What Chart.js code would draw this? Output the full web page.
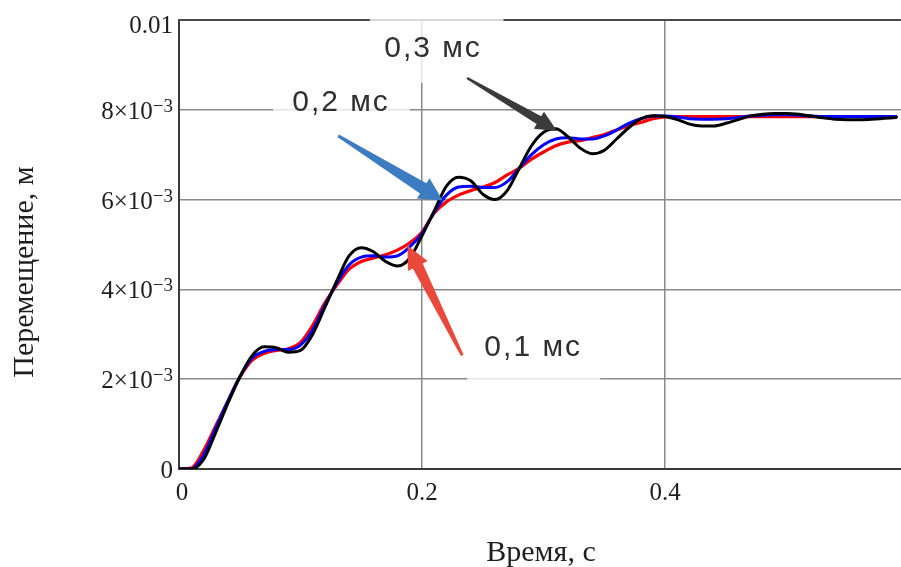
<!DOCTYPE html>
<html><head><meta charset="utf-8">
<script src="https://cdn.jsdelivr.net/npm/chart.js@4/dist/chart.umd.min.js"></script>
<style>html,body{margin:0;padding:0;background:#fff;overflow:hidden}#wrap{width:901px;height:567px}</style>
</head><body><div id="wrap"><canvas id="c" width="901" height="567"></canvas></div>
<script>
// ---- data (time, s; displacement, m) ----
const times = [0,0.01,0.02,0.03,0.04,0.05,0.06,0.07,0.08,0.09,
  0.10,0.11,0.12,0.13,0.14,0.15,0.16,0.17,0.18,0.19,
  0.20,0.21,0.22,0.23,0.24,0.25,0.26,0.27,0.28,0.29,
  0.30,0.31,0.32,0.33,0.34,0.35,0.36,0.37,0.38,0.39,
  0.40,0.41,0.42,0.43,0.44,0.45,0.46,0.47,0.48,0.49,
  0.50,0.51,0.52,0.53,0.54,0.55,0.56,0.57,0.58,0.59];
const s03 = [0,0,0.20e-3,0.80e-3,1.45e-3,2.05e-3,2.52e-3,2.72e-3,2.70e-3,2.60e-3,
  2.64e-3,3.00e-3,3.60e-3,4.20e-3,4.75e-3,4.93e-3,4.84e-3,4.62e-3,4.52e-3,4.70e-3,
  5.20e-3,5.75e-3,6.30e-3,6.50e-3,6.42e-3,6.12e-3,6.00e-3,6.20e-3,6.70e-3,7.20e-3,
  7.50e-3,7.58e-3,7.40e-3,7.15e-3,7.02e-3,7.10e-3,7.35e-3,7.60e-3,7.80e-3,7.87e-3,
  7.85e-3,7.78e-3,7.68e-3,7.64e-3,7.64e-3,7.70e-3,7.78e-3,7.86e-3,7.90e-3,7.92e-3,
  7.92e-3,7.90e-3,7.86e-3,7.82e-3,7.79e-3,7.78e-3,7.78e-3,7.79e-3,7.81e-3,7.83e-3];
const s02 = [0,0,0.30e-3,0.90e-3,1.50e-3,2.05e-3,2.47e-3,2.62e-3,2.66e-3,2.66e-3,
  2.76e-3,3.10e-3,3.65e-3,4.15e-3,4.55e-3,4.72e-3,4.75e-3,4.72e-3,4.75e-3,4.95e-3,
  5.25e-3,5.72e-3,6.10e-3,6.28e-3,6.30e-3,6.27e-3,6.27e-3,6.40e-3,6.70e-3,7.00e-3,
  7.22e-3,7.35e-3,7.38e-3,7.35e-3,7.35e-3,7.42e-3,7.55e-3,7.70e-3,7.80e-3,7.86e-3,
  7.86e-3,7.84e-3,7.80e-3,7.79e-3,7.79e-3,7.80e-3,7.83e-3,7.86e-3,7.88e-3,7.89e-3,
  7.89e-3,7.88e-3,7.86e-3,7.85e-3,7.85e-3,7.85e-3,7.85e-3,7.85e-3,7.85e-3,7.85e-3];
const s01 = [0,0.02e-3,0.40e-3,0.95e-3,1.50e-3,2.04e-3,2.42e-3,2.57e-3,2.64e-3,2.68e-3,
  2.82e-3,3.20e-3,3.70e-3,4.10e-3,4.45e-3,4.62e-3,4.70e-3,4.77e-3,4.88e-3,5.04e-3,
  5.28e-3,5.70e-3,5.95e-3,6.10e-3,6.20e-3,6.28e-3,6.38e-3,6.55e-3,6.70e-3,6.90e-3,
  7.06e-3,7.20e-3,7.28e-3,7.31e-3,7.38e-3,7.45e-3,7.55e-3,7.65e-3,7.72e-3,7.80e-3,
  7.84e-3,7.85e-3,7.85e-3,7.85e-3,7.85e-3,7.85e-3,7.85e-3,7.85e-3,7.85e-3,7.85e-3,
  7.85e-3,7.85e-3,7.85e-3,7.85e-3,7.85e-3,7.85e-3,7.85e-3,7.85e-3,7.85e-3,7.85e-3];
const seriesNames = ['0,3 мс','0,2 мс','0,1 мс'];
const xTicks = [0,0.2,0.4];
const xTickLabels = ['0','0.2','0.4'];
const yTicks = [0,0.002,0.004,0.006,0.008,0.01];
const yTickMain = ['0','2×10','4×10','6×10','8×10','0.01'];
const yTickSup = ['','−3','−3','−3','−3',''];
const xTitle = 'Время, с';
const yTitle = 'Перемещение, м';
// callouts: label position, box corners, arrow tail/tip (data units)
const callouts = [
  {text:'0,3 мс', color:'#3a3a3a', tx:0.209, ty:0.00936, box:[0.157,0.01004,0.267,0.0086], tail:[0.237,0.00871], tip:[0.311,0.00753], w:[1.2,4.5,10], head:21},
  {text:'0,2 мс', color:'#3d7cc0', tx:0.1333, ty:0.00816, box:[0.0774,0.00866,0.190,0.00789], tail:[0.131,0.00742], tip:[0.217,0.00598], w:[1.5,6,12], head:23},
  {text:'0,1 мс', color:'#e8493b', tx:0.2914, ty:0.00269, box:[0.237,0.00336,0.3465,0.00191], tail:[0.233,0.00253], tip:[0.188,0.00498], w:[1.5,5.5,11], head:23}
];

const SERIF = '"Liberation Serif","Times New Roman",serif';
const SANS = '"Liberation Sans",Arial,sans-serif';

const drawPlugin = {
  id:'deco',
  beforeDatasetsDraw(chart){
    const {ctx, chartArea:a} = chart;
    ctx.save();
    ctx.strokeStyle='#4a4a4a'; ctx.lineWidth=2;
    ctx.beginPath(); ctx.moveTo(a.left-1,a.top); ctx.lineTo(a.right,a.top); ctx.stroke();
    ctx.restore();
  },
  afterDatasetsDraw(chart){
    const {ctx} = chart;
    const xs = chart.scales.x, ys = chart.scales.y;
    const px = v=>xs.getPixelForValue(v), py = v=>ys.getPixelForValue(v);
    ctx.save();
    for(const c of callouts){
      const x0=px(c.box[0]), y0=py(c.box[1]), x1=px(c.box[2]), y1=py(c.box[3]);
      ctx.fillStyle='rgba(255,255,255,0.78)';
      ctx.fillRect(x0,y0,x1-x0,y1-y0);
      ctx.fillStyle='#303030';
      ctx.font='30px '+SANS;
      ctx.textAlign='center'; ctx.textBaseline='middle';
      try{ctx.letterSpacing='2px';}catch(e){}
      ctx.fillText(c.text, px(c.tx), py(c.ty));
      try{ctx.letterSpacing='0px';}catch(e){}
    }
    for(const c of callouts){
      const tx=px(c.tail[0]), ty=py(c.tail[1]), hx=px(c.tip[0]), hy=py(c.tip[1]);
      const dx=hx-tx, dy=hy-ty, L=Math.hypot(dx,dy), ux=dx/L, uy=dy/L, nx=-uy, ny=ux;
      const bx=hx-ux*c.head, by=hy-uy*c.head;
      ctx.fillStyle=c.color;
      ctx.beginPath();
      ctx.moveTo(tx+nx*c.w[0],ty+ny*c.w[0]);
      ctx.lineTo(bx+nx*c.w[1],by+ny*c.w[1]);
      ctx.lineTo(bx+nx*c.w[2],by+ny*c.w[2]);
      ctx.lineTo(hx,hy);
      ctx.lineTo(bx-nx*c.w[2],by-ny*c.w[2]);
      ctx.lineTo(bx-nx*c.w[1],by-ny*c.w[1]);
      ctx.lineTo(tx-nx*c.w[0],ty-ny*c.w[0]);
      ctx.closePath(); ctx.fill();
    }
    ctx.restore();
  },
  afterDraw(chart){
    const {ctx, chartArea:a} = chart;
    const xs = chart.scales.x, ys = chart.scales.y;
    ctx.save();
    ctx.fillStyle='#1e1e1e';
    ctx.textBaseline='alphabetic';
    // y tick labels
    yTicks.forEach((v,i)=>{
      let y = ys.getPixelForValue(v)+1;
      y = Math.min(Math.max(y,25),473);
      const base = y+8;
      const right = a.left-6;
      let supW=0;
      if(yTickSup[i]){
        ctx.font='19px '+SERIF;
        supW = ctx.measureText(yTickSup[i]).width;
        ctx.textAlign='right';
        ctx.fillText(yTickSup[i], right, base-7);
      }
      ctx.font='25px '+SERIF;
      ctx.textAlign='right';
      ctx.fillText(yTickMain[i], right-supW, base);
    });
    // x tick labels
    ctx.font='25px '+SERIF; ctx.textAlign='center';
    xTicks.forEach((v,i)=>{
      const x = xs.getPixelForValue(v) + (v===0?3:0);
      ctx.fillText(xTickLabels[i], x, 500);
    });
    // titles
    ctx.font='30px '+SERIF; ctx.textAlign='center';
    ctx.fillText(xTitle, 541, 561);
    ctx.translate(33,272); ctx.rotate(-Math.PI/2);
    ctx.fillText(yTitle,0,0);
    ctx.restore();
  }
};

const mk = (arr)=>times.map((t,i)=>({x:t,y:arr[i]}));
new Chart(document.getElementById('c'),{
  type:'line',
  data:{datasets:[
    {label:seriesNames[0], data:mk(s03), borderColor:'#000000', borderWidth:3},
    {label:seriesNames[1], data:mk(s02), borderColor:'#0000ff', borderWidth:3},
    {label:seriesNames[2], data:mk(s01), borderColor:'#ff0000', borderWidth:3.2}
  ]},
  options:{
    responsive:false, animation:false, devicePixelRatio:1,
    elements:{point:{radius:0}, line:{cubicInterpolationMode:'monotone', borderCapStyle:'round', borderJoinStyle:'round'}},
    layout:{padding:{top:20,left:0,right:0,bottom:0}},
    plugins:{legend:{display:false}, tooltip:{enabled:false}},
    scales:{
      x:{type:'linear', min:0, max:0.594,
        afterBuildTicks(ax){ax.ticks = xTicks.map(v=>({value:v}));},
        afterFit(ax){ax.height=98;},
        ticks:{display:false},
        grid:{color:'#8a8a8a', lineWidth:1.5, drawTicks:false},
        border:{color:'#3a3a3a', width:2}},
      y:{type:'linear', min:0, max:0.01,
        afterBuildTicks(ax){ax.ticks = yTicks.map(v=>({value:v}));},
        afterFit(ax){ax.width=179;},
        ticks:{display:false},
        grid:{color:'#8a8a8a', lineWidth:1.5, drawTicks:false},
        border:{color:'#3a3a3a', width:2}}
    }
  },
  plugins:[drawPlugin]
});
</script></body></html>
